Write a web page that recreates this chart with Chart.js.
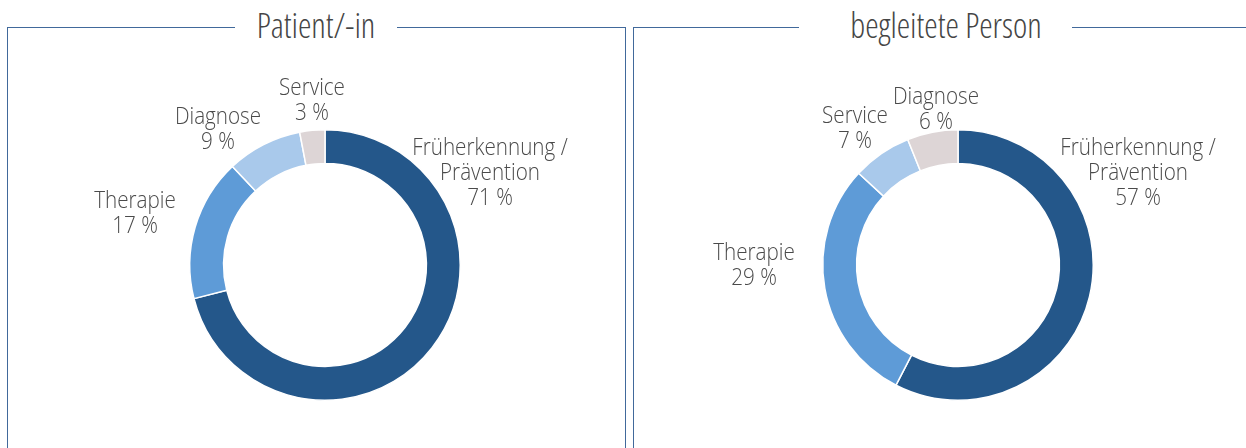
<!DOCTYPE html>
<html>
<head>
<meta charset="utf-8">
<script src="https://cdn.jsdelivr.net/npm/chart.js@4"></script>
<style>
  html, body { margin: 0; padding: 0; background: #fff; }
  body { width: 1246px; height: 448px; position: relative; overflow: hidden;
         font-family: "Open Sans", sans-serif; }
  .panel { position: absolute; top: 27px; height: 440px;
           border: 1px solid #41699b; border-bottom: none; }
  .title { position: absolute; top: 5px; font-size: 34px; line-height: 40px;
           font-weight: 300; font-stretch: 75%; text-align: center;
           color: #454545; background: #fff; white-space: nowrap; }
  canvas { position: absolute; top: 0; }
</style>
</head>
<body>
<div class="panel" style="left:7px; width:617px;"></div>
<div class="panel" style="left:633px; width:640px;"></div>
<div class="title" style="left:235px; width:162px;">Patient/-in</div>
<div class="title" style="left:799px; width:252px; padding-left:21px;">begleitete Person</div>
<canvas id="c1" style="left:0;"></canvas>
<canvas id="c2" style="left:630px;"></canvas>
<script>
// Kategorien und Anteile (in %)
const patientLabels = ['Früherkennung /\nPrävention', 'Therapie', 'Diagnose', 'Service'];
const patientValues = [71, 17, 9, 3];

const begleitLabels = ['Früherkennung /\nPrävention', 'Therapie', 'Service', 'Diagnose'];
const begleitValues = [57, 29, 7, 6];

// Farben nach Position im Ring
const sliceColors = ['#24578a', '#5e9bd7', '#a9c9eb', '#ddd5d6'];

// Beschriftungen, verankert an der Ringmitte (Abstand in px)
const labelPlugin = {
    id: 'ringLabels',
    afterDatasetsDraw(chart, args, opts) {
        const ctx = chart.ctx;
        const arc0 = chart.getDatasetMeta(0).data[0];
        const cx = arc0.x, cy = arc0.y;
        const values = chart.data.datasets[0].data;
        ctx.save();
        ctx.font = '300 24px "Open Sans", sans-serif';
        ctx.fillStyle = '#4a4a4a';
        ctx.textAlign = 'center';
        ctx.textBaseline = 'middle';
        chart.data.labels.forEach((lab, i) => {
            const lines = lab.split('\n').concat([values[i] + ' %']);
            const off = opts.offsets[i];
            const lh = 25;
            const y0 = cy + off[1] - (lines.length - 1) * lh / 2;
            lines.forEach((ln, k) => {
                // Schrift etwas schmaler laufen lassen
                ctx.save();
                ctx.translate(cx + off[0], y0 + k * lh);
                ctx.scale(0.86, 1);
                ctx.fillText(ln, 0, 0);
                ctx.restore();
            });
        });
        ctx.restore();
    }
};

function makeRing(canvasId, w, labels, values, padding, offsets) {
    const el = document.getElementById(canvasId);
    el.width = w; el.height = 448;
    el.style.width = w + 'px'; el.style.height = '448px';
    return new Chart(el.getContext('2d'), {
        type: 'doughnut',
        data: {
            labels: labels,
            datasets: [{
                data: values,
                backgroundColor: sliceColors,
                borderColor: '#ffffff',
                borderWidth: 1.5
            }]
        },
        options: {
            responsive: false,
            animation: false,
            cutout: '75%',
            layout: { padding: padding },
            plugins: {
                legend: { display: false },
                tooltip: { enabled: false },
                ringLabels: { offsets: offsets }
            }
        },
        plugins: [labelPlugin]
    });
}

makeRing('c1', 630, patientLabels, patientValues,
    { left: 189, right: 169, top: 129, bottom: 47 },
    [[165, -92], [-190, -51.5], [-107, -135.5], [-13, -164.5]]);

makeRing('c2', 616, begleitLabels, begleitValues,
    { left: 192, right: 152, top: 129, bottom: 47 },
    [[180, -92], [-204, 0.5], [-103, -136.5], [-22, -155.5]]);
</script>
</body>
</html>
